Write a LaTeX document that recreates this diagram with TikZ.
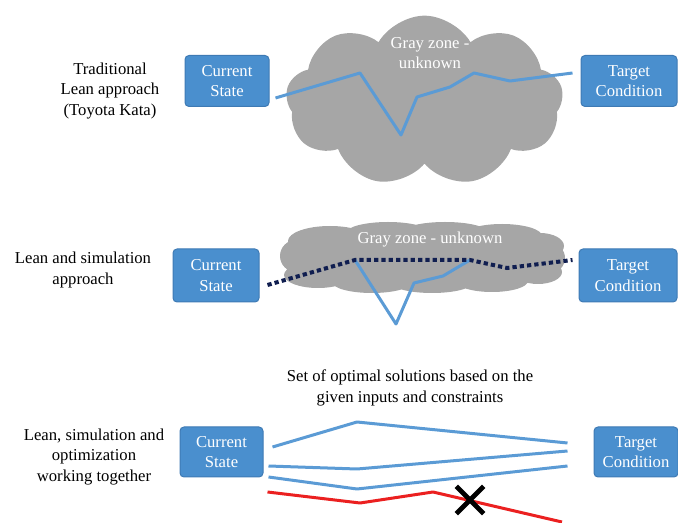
\documentclass[tikz,border=0pt]{standalone}
\usepackage{fontspec}
\setmainfont{Liberation Serif}
\usetikzlibrary{calc}
\usetikzlibrary{shapes.symbols,shapes.misc}
\definecolor{boxblue}{RGB}{74,143,206}
\definecolor{boxedge}{RGB}{62,122,180}
\definecolor{lineblue}{RGB}{91,155,213}
\definecolor{zonegray}{RGB}{166,166,166}
\definecolor{pathnavy}{RGB}{16,30,80}
\definecolor{pathred}{RGB}{235,32,32}
\tikzset{every picture/.style={line width=0.75pt}}
\tikzset{
  labeltext/.style={align=center, inner sep=0.75pt, font=\fontsize{12.5}{15.5}\selectfont},
  statebox/.style={labeltext, draw=boxedge, fill=boxblue, rounded corners=3pt, text=white, inner sep=0pt},
  zone/.style={cloud, cloud ignores aspect, fill=zonegray, draw=none, inner sep=0pt},
  zonetext/.style={labeltext, text=white},
  bluepath/.style={draw=lineblue, line width=2.25pt, line join=round},
  navypath/.style={draw=pathnavy, line width=3pt, dash pattern=on 3.2pt off 2.3pt},
  redpath/.style={draw=pathred, line width=2.25pt, line join=round}
}

\begin{document}
\begin{tikzpicture}[x=0.75pt,y=0.75pt,yscale=-1,xscale=1]
\useasboundingbox (0,0) rectangle (678,523);

% Traditional Lean approach
\node [labeltext] (lab1) at (110,91) {Traditional\\Lean approach\\(Toyota Kata)};
\node [zone, cloud puffs=9, cloud puff arc=120, minimum width=208pt, minimum height=128pt] (zone1) at (424.5,101) {};
\node [zonetext] (ztext1) at (430,53) {Gray zone -\\unknown};
\node [statebox, minimum width=63pt, minimum height=38.25pt] (cs1) at (227,81) {Current\\State};
\node [statebox, minimum width=72pt, minimum height=38.25pt] (tc1) at (629,81) {Target\\Condition};
\draw [bluepath] ($(cs1.east)+(6,17)$) -- (360,73) -- (401,135) -- (417,97) -- (450,87) -- (474,73) -- (510,81) -- ($(tc1.west)+(-8,-8)$);

% Lean and simulation
\node [labeltext] (lab2) at (83,270) {Lean and simulation\\approach};
%flat cloud
\fill [zonegray] (422,258) ellipse [x radius=138, y radius=26]
  (330,241) ellipse [x radius=42, y radius=15]
  (388,233) ellipse [x radius=42, y radius=11]
  (445,232) ellipse [x radius=42, y radius=10]
  (502,236) ellipse [x radius=40, y radius=12]
  (540,246) ellipse [x radius=24, y radius=13]
  (318,275) ellipse [x radius=34, y radius=13]
  (372,282) ellipse [x radius=40, y radius=11]
  (432,283) ellipse [x radius=40, y radius=10]
  (492,281) ellipse [x radius=36, y radius=11]
  (538,272) ellipse [x radius=24, y radius=12]
  (296,256) ellipse [x radius=16, y radius=16]
  (550,258) ellipse [x radius=15, y radius=15];
\node [zonetext] (ztext2) at (430,240) {Gray zone - unknown};
\node [statebox, minimum width=64.5pt, minimum height=39.75pt] (cs2) at (216,275.5) {Current\\State};
\node [statebox, minimum width=73.5pt, minimum height=39.75pt] (tc2) at (628,275.5) {Target\\Condition};
\coordinate (p2a) at (355,260);
\coordinate (p2b) at (470,260);
\draw [bluepath] (p2a) -- (396,324) -- (414,283) -- (443,276) -- (p2b);
\draw [navypath] ($(cs2.east)+(8,9.5)$) -- (p2a) -- (p2b) -- (507,268) -- ($(tc2.west)+(-6,-15.5)$);

% Lean, simulation and optimization
\node [labeltext] (lab3) at (94,457) {Lean, simulation and\\optimization\\working together};
\node [labeltext] (head3) at (410,388) {Set of optimal solutions based on the\\given inputs and constraints};
\node [statebox, minimum width=62.25pt, minimum height=37.5pt] (cs3) at (221.5,452) {Current\\State};
\node [statebox, minimum width=63pt, minimum height=37.5pt] (tc3) at (636,452) {Target\\Condition};
\draw [bluepath] ($(cs3.east)+(9,-5)$) -- (357,422) -- ($(tc3.west)+(-26,-9)$);
\draw [bluepath] ($(cs3.east)+(5,14)$) -- (357,469) -- ($(tc3.west)+(-26,-1)$);
\draw [bluepath] ($(cs3.east)+(5,25)$) -- (357,489) -- ($(tc3.west)+(-26,14)$);
\coordinate (redend) at (562,522);
\draw [redpath] ($(cs3.east)+(4,40)$) -- (360,503) -- (433,492) -- (redend);
\node [cross out, draw=black, line width=3.5pt, minimum size=17pt, inner sep=0pt] (cross) at (470,500) {};

\end{tikzpicture}
\end{document}
